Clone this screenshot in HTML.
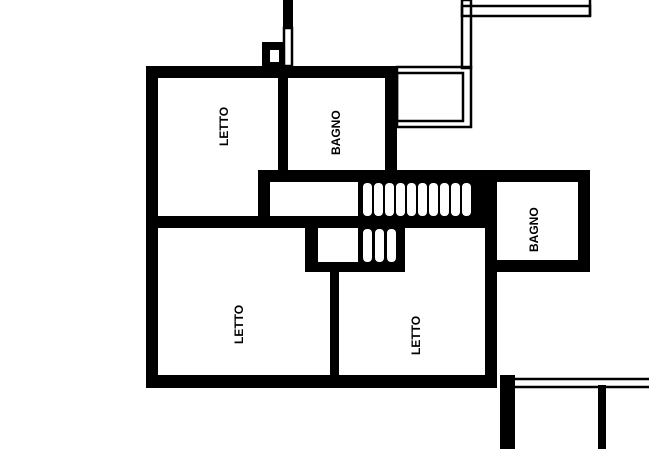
<!DOCTYPE html>
<html><head><meta charset="utf-8"><style>
html,body{margin:0;padding:0;background:#fff;width:649px;height:449px;overflow:hidden}
svg{display:block}
text{font-family:"Liberation Sans",sans-serif;font-weight:bold;font-size:12px;fill:#000}
</style></head><body>
<svg width="649" height="449" viewBox="0 0 649 449" xmlns="http://www.w3.org/2000/svg">
<g fill="#000">
<rect x="146" y="66" width="12" height="322"/>
<rect x="146" y="66" width="251" height="12"/>
<rect x="146" y="375" width="351" height="13"/>
<rect x="278" y="66" width="10" height="108"/>
<rect x="385" y="66" width="12" height="116"/>
<rect x="258" y="170" width="332" height="12"/>
<rect x="258" y="170" width="12" height="52"/>
<rect x="146" y="216" width="351" height="12"/>
<rect x="305" y="216" width="13" height="56"/>
<rect x="305" y="262" width="100" height="10"/>
<rect x="358" y="182" width="127" height="35"/>
<rect x="358" y="228" width="47" height="36"/>
<rect x="330" y="262" width="9" height="115"/>
<rect x="485" y="182" width="12" height="206"/>
<rect x="578" y="170" width="12" height="102"/>
<rect x="485" y="260" width="105" height="12"/>
<rect x="283" y="0" width="10" height="28"/>
<rect x="262" y="42" width="21" height="24"/>
<rect x="500" y="375" width="15" height="74"/>
<rect x="598" y="385" width="8" height="64"/>
</g>
<g fill="#fff">
<rect x="270" y="50" width="9" height="12"/>
<rect x="363" y="183" width="9" height="33" rx="4"/>
<rect x="374" y="183" width="9" height="33" rx="4"/>
<rect x="385" y="183" width="9" height="33" rx="4"/>
<rect x="396" y="183" width="9" height="33" rx="4"/>
<rect x="407" y="183" width="9" height="33" rx="4"/>
<rect x="418" y="183" width="9" height="33" rx="4"/>
<rect x="429" y="183" width="9" height="33" rx="4"/>
<rect x="440" y="183" width="9" height="33" rx="4"/>
<rect x="451" y="183" width="9" height="33" rx="4"/>
<rect x="462" y="183" width="9" height="33" rx="4"/>
<rect x="363" y="229" width="9" height="33" rx="4"/>
<rect x="375" y="229" width="9" height="33" rx="4"/>
<rect x="387" y="229" width="9" height="33" rx="4"/>
</g>
<g fill="none" stroke="#000" stroke-width="2.5">
<rect x="284" y="28" width="8" height="38"/>
<rect x="462" y="0" width="9" height="68"/>
<rect x="462" y="6" width="128" height="10"/>
<line x1="590" y1="0" x2="590" y2="16"/>
<rect x="397" y="67" width="74" height="60"/>
<rect x="397" y="73" width="66" height="48"/>
<rect x="388" y="80" width="6" height="36"/>
<line x1="505" y1="379" x2="649" y2="379"/>
<line x1="508" y1="387" x2="649" y2="387"/>
</g>
<g>
<text transform="translate(228,146) rotate(-90)">LETTO</text>
<text transform="translate(340,155) rotate(-90)">BAGNO</text>
<text transform="translate(243,344) rotate(-90)">LETTO</text>
<text transform="translate(420,355) rotate(-90)">LETTO</text>
<text transform="translate(538,252) rotate(-90)">BAGNO</text>
</g>
</svg>
</body></html>
